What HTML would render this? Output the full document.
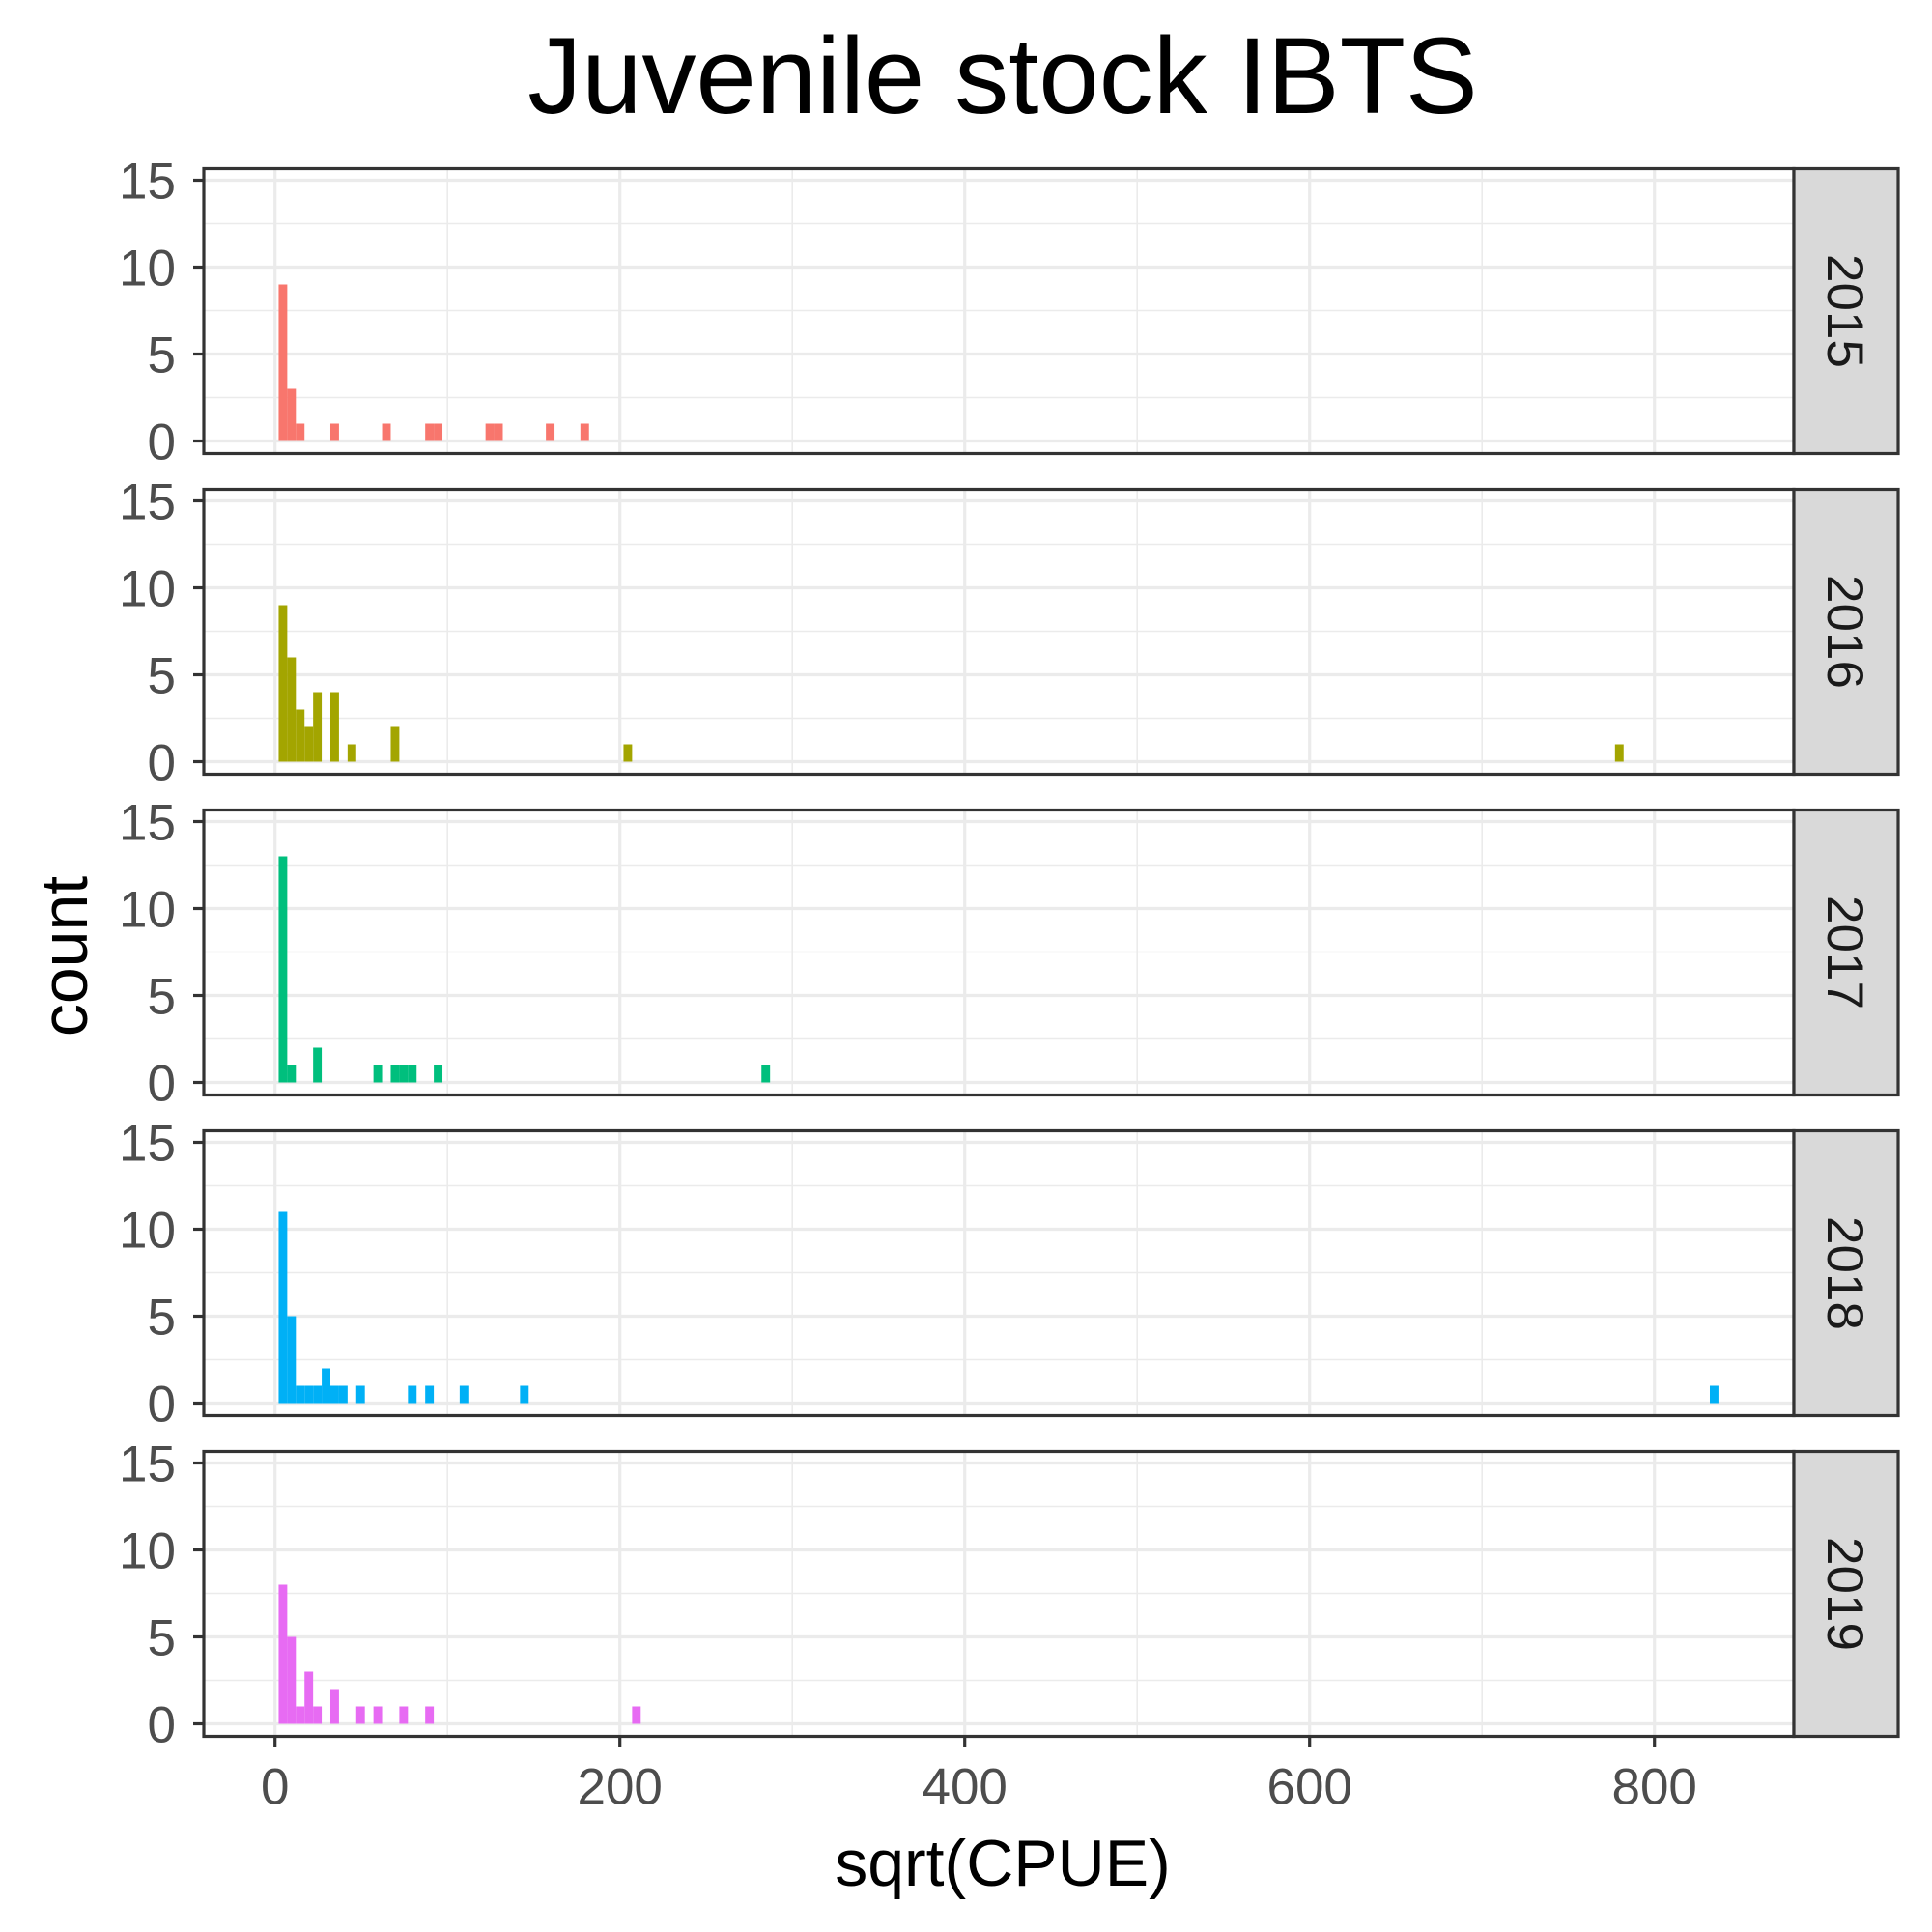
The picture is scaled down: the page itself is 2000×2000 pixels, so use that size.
<!DOCTYPE html>
<html><head><meta charset="utf-8"><style>
html,body{margin:0;padding:0;background:#fff;}
svg{display:block;font-family:"Liberation Sans",Arial,sans-serif;}
</style></head><body>
<svg id="chart" width="2000" height="2000" viewBox="0 0 2000 2000" xmlns="http://www.w3.org/2000/svg">
<rect width="2000" height="2000" fill="#fff"/>
<text x="1038" y="117" font-size="112" text-anchor="middle" fill="#000">Juvenile stock IBTS</text>
<text x="1038" y="1952" font-size="68" text-anchor="middle" fill="#000">sqrt(CPUE)</text>
<text transform="translate(90,990) rotate(-90)" font-size="68" text-anchor="middle" fill="#000">count</text>
<g id="panels"></g>
</svg>
<script>
const years = ["2015","2016","2017","2018","2019"];
const colors = ["#F8766D","#A3A500","#00BF7D","#00B0F6","#E76BF3"];
const binWidth = 5;
const binOrigin = 2.1;
// bin index lists and counts per year
const bins2015 = [0,1,2,6,12,17,18,24,25,31,35];
const counts2015 = [9,3,1,1,1,1,1,1,1,1,1];
const bins2016 = [0,1,2,3,4,6,8,13,40,155];
const counts2016 = [9,6,3,2,4,4,1,2,1,1];
const bins2017 = [0,1,4,11,13,14,15,18,56];
const counts2017 = [13,1,2,1,1,1,1,1,1];
const bins2018 = [0,1,2,3,4,5,6,7,9,15,17,21,28,166];
const counts2018 = [11,5,1,1,1,2,1,1,1,1,1,1,1,1];
const bins2019 = [0,1,2,3,4,6,9,11,14,17,41];
const counts2019 = [8,5,1,3,1,2,1,1,1,1,1];
const xTicks = [0,200,400,600,800];
const xMinor = [100,300,500,700];
const yTicks = [0,5,10,15];
const yMinor = [2.5,7.5,12.5];

const allBins = [bins2015,bins2016,bins2017,bins2018,bins2019];
const allCounts = [counts2015,counts2016,counts2017,counts2018,counts2019];

const NS = "http://www.w3.org/2000/svg";
const panelLeft = 211, panelRight = 1857, panelH = 295, pitch = 332, firstTop = 174.5;
const stripW = 108;
function xScale(v){ return 284.7 + v * 1.785; }
function yScale(v, top){ return top + 282 - v * 18; }
function mk(tag, attrs, parent){
  const e = document.createElementNS(NS, tag);
  for (const k in attrs) e.setAttribute(k, attrs[k]);
  parent.appendChild(e); return e;
}
const root = document.getElementById("panels");
years.forEach((yr, i) => {
  const top = firstTop + i * pitch;
  const g = mk("g", {}, root);
  
  
  yMinor.forEach(v => {
    const l = mk("line", {x1:panelLeft,x2:panelRight,y1:yScale(v,top),y2:yScale(v,top),stroke:"#ebebeb","stroke-width":1.6}, g);
    
    
  });
  xMinor.forEach(v => {
    const l = mk("line", {x1:xScale(v),x2:xScale(v),y1:top,y2:top+panelH,stroke:"#ebebeb","stroke-width":1.6}, g);
    
    
  });
  yTicks.forEach(v => {
    const l = mk("line", {x1:panelLeft,x2:panelRight,y1:yScale(v,top),y2:yScale(v,top),stroke:"#ebebeb","stroke-width":3.2}, g);
    
    
    const t = mk("line", {x1:200,x2:panelLeft,y1:yScale(v,top),y2:yScale(v,top),stroke:"#333","stroke-width":3.2}, g);
    
    
    const lb = mk("text", {x:182,y:yScale(v,top)+19,"font-size":53,"text-anchor":"end",fill:"#4d4d4d"}, g);
    lb.textContent = v;
    
    
  });
  xTicks.forEach(v => {
    const l = mk("line", {x1:xScale(v),x2:xScale(v),y1:top,y2:top+panelH,stroke:"#ebebeb","stroke-width":3.2}, g);
    
    
  });
  allBins[i].forEach((b, j) => {
    const x0 = binOrigin + b * binWidth;
    const c = allCounts[i][j];
    const r = mk("rect", {x:xScale(x0), y:yScale(c,top), width:xScale(x0+binWidth)-xScale(x0), height:yScale(0,top)-yScale(c,top), fill:colors[i]}, g);
    
    
  });
  const border = mk("rect", {x:panelLeft, y:top, width:panelRight-panelLeft, height:panelH, fill:"none", stroke:"#333", "stroke-width":3.2}, g);
  
  
  const strip = mk("rect", {x:panelRight, y:top, width:stripW, height:panelH, fill:"#d9d9d9", stroke:"#333", "stroke-width":3.2}, g);
  
  
  const st = mk("text", {transform:"translate(" + (panelRight+stripW/2-19) + "," + (top+panelH/2) + ") rotate(90)", "font-size":53, "text-anchor":"middle", fill:"#1a1a1a"}, g);
  st.textContent = yr;
  
  
  if (i === years.length - 1) {
    xTicks.forEach(v => {
      const t = mk("line", {x1:xScale(v),x2:xScale(v),y1:top+panelH,y2:top+panelH+11,stroke:"#333","stroke-width":3.2}, g);
      
      
      const lb = mk("text", {x:xScale(v),y:top+panelH+70,"font-size":53,"text-anchor":"middle",fill:"#4d4d4d"}, g);
      lb.textContent = v;
      
      
    });
  }
});
</script>
</body></html>
